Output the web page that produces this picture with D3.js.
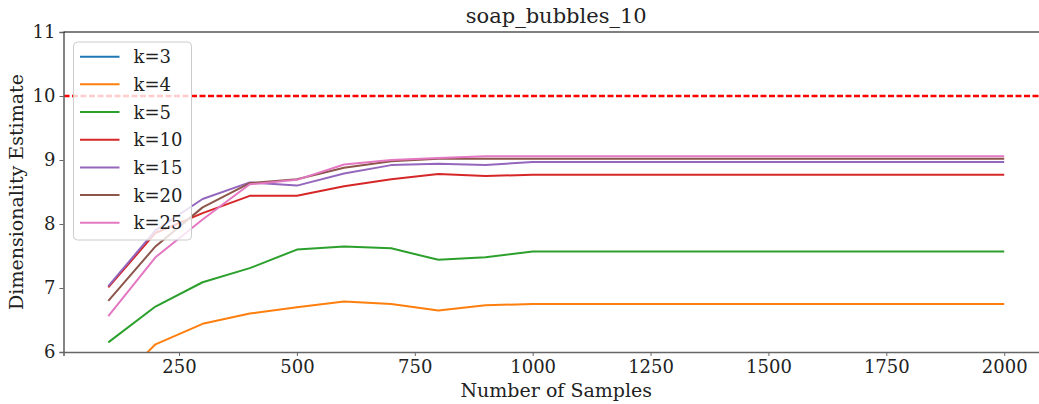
<!DOCTYPE html>
<html>
<head>
<meta charset="utf-8">
<script src="https://cdn.jsdelivr.net/npm/d3@7"></script>
<style>
  body { margin: 0; background: #fff; }
  svg { font-family: "DejaVu Serif", serif; }
  .tick text { font-size: 18px; fill: #222; }
</style>
</head>
<body>
<svg id="chart" width="1039" height="404"></svg>
<script>
// sample sizes
const samples = [100, 200, 300, 400, 500, 600, 700, 800, 900, 1000,
                 1100, 1200, 1300, 1400, 1500, 1600, 1700, 1800, 1900, 2000];

const kLabels = ["k=3", "k=4", "k=5", "k=10", "k=15", "k=20", "k=25"];
const colors = ["#1f77b4", "#ff7f0e", "#2ca02c", "#d62728", "#9467bd", "#8c564b", "#e377c2"];

// estimates per k (k=3 lies below the visible range)
const k3  = [4.60, 5.30, 5.58, 5.72, 5.80, 5.86, 5.83, 5.76, 5.80, 5.82, 5.82, 5.82, 5.82, 5.82, 5.82, 5.82, 5.82, 5.82, 5.82, 5.82];
const k4  = [5.38, 6.12, 6.44, 6.60, 6.70, 6.79, 6.75, 6.65, 6.73, 6.75, 6.75, 6.75, 6.75, 6.75, 6.75, 6.75, 6.75, 6.75, 6.75, 6.75];
const k5  = [6.15, 6.71, 7.09, 7.31, 7.60, 7.65, 7.62, 7.44, 7.48, 7.57, 7.57, 7.57, 7.57, 7.57, 7.57, 7.57, 7.57, 7.57, 7.57, 7.57];
const k10 = [7.01, 7.86, 8.17, 8.44, 8.44, 8.59, 8.70, 8.78, 8.75, 8.77, 8.77, 8.77, 8.77, 8.77, 8.77, 8.77, 8.77, 8.77, 8.77, 8.77];
const k15 = [7.03, 7.90, 8.39, 8.65, 8.60, 8.79, 8.92, 8.94, 8.92, 8.97, 8.97, 8.97, 8.97, 8.97, 8.97, 8.97, 8.97, 8.97, 8.97, 8.97];
const k20 = [6.80, 7.65, 8.26, 8.64, 8.70, 8.88, 8.98, 9.02, 9.02, 9.02, 9.02, 9.02, 9.02, 9.02, 9.02, 9.02, 9.02, 9.02, 9.02, 9.02];
const k25 = [6.56, 7.48, 8.07, 8.62, 8.69, 8.93, 9.00, 9.03, 9.06, 9.06, 9.06, 9.06, 9.06, 9.06, 9.06, 9.06, 9.06, 9.06, 9.06, 9.06];
const series = [k3, k4, k5, k10, k15, k20, k25];

const trueDim = 10;
const xTicks = [250, 500, 750, 1000, 1250, 1500, 1750, 2000];
const yTicks = [6, 7, 8, 9, 10, 11];

const margin = {left: 63.5, top: 32, right: 1049, bottom: 352};

const svg = d3.select("#chart");

const x = d3.scaleLinear().domain([5, 2095]).range([margin.left, margin.right]);
const y = d3.scaleLinear().domain([6, 11]).range([margin.bottom, margin.top]);

svg.append("defs").append("clipPath").attr("id", "clip")
    .append("rect")
    .attr("x", margin.left).attr("y", margin.top)
    .attr("width", margin.right - margin.left)
    .attr("height", margin.bottom - margin.top);

const plot = svg.append("g").attr("clip-path", "url(#clip)");

const line = d3.line()
    .x((d, i) => x(samples[i]))
    .y(d => y(d));

series.forEach(function(s, i) {
    plot.append("path")
        .datum(s)
        .attr("d", line)
        .attr("fill", "none")
        .attr("stroke", colors[i])
        .attr("stroke-width", 2)
        .attr("stroke-linejoin", "round");
});

plot.append("line")
    .attr("x1", margin.left).attr("x2", margin.right)
    .attr("y1", y(trueDim)).attr("y2", y(trueDim))
    .attr("stroke", "#ff0000")
    .attr("stroke-width", 2.5)
    .attr("stroke-dasharray", "6,2.5");

// axes
const xAxis = svg.append("g")
    .attr("transform", "translate(0," + margin.bottom + ")")
    .call(d3.axisBottom(x).tickValues(xTicks).tickFormat(d3.format("d")).tickSize(4).tickPadding(4));
const yAxis = svg.append("g")
    .attr("transform", "translate(" + margin.left + ",0)")
    .call(d3.axisLeft(y).tickValues(yTicks).tickFormat(d3.format("d")).tickSize(4).tickPadding(4));

[xAxis, yAxis].forEach(function(a) {
    a.select(".domain").attr("stroke", "#666").attr("stroke-width", 1.6);
    a.selectAll(".tick line").attr("stroke", "#666").attr("stroke-width", 1);
    a.attr("font-family", null).attr("font-size", null);
});

// top spine
svg.append("line")
    .attr("x1", margin.left).attr("x2", margin.right)
    .attr("y1", margin.top).attr("y2", margin.top)
    .attr("stroke", "#000").attr("stroke-width", 1.2);

svg.append("text")
    .attr("x", (margin.left + margin.right) / 2)
    .attr("y", 23)
    .attr("text-anchor", "middle")
    .attr("font-size", 21)
    .attr("fill", "#222")
    .text("soap_bubbles_10");

svg.append("text")
    .attr("x", (margin.left + margin.right) / 2)
    .attr("y", 397)
    .attr("text-anchor", "middle")
    .attr("font-size", 19)
    .attr("fill", "#222")
    .text("Number of Samples");

svg.append("text")
    .attr("transform", "translate(23," + (margin.top + margin.bottom) / 2 + ") rotate(-90)")
    .attr("text-anchor", "middle")
    .attr("font-size", 19)
    .attr("fill", "#222")
    .text("Dimensionality Estimate");

// legend
const legend = svg.append("g").attr("transform", "translate(73.5,42)");
legend.append("rect")
    .attr("width", 118).attr("height", 198)
    .attr("rx", 4)
    .attr("fill", "#fff").attr("fill-opacity", 0.8)
    .attr("stroke", "#ccc").attr("stroke-width", 1);

kLabels.forEach(function(lab, i) {
    const cy = 14.7 + i * 27.67;
    legend.append("line")
        .attr("x1", 6.5).attr("x2", 46)
        .attr("y1", cy).attr("y2", cy)
        .attr("stroke", colors[i]).attr("stroke-width", 2);
    legend.append("text")
        .attr("x", 60).attr("y", cy + 6.5)
        .attr("font-size", 18)
        .attr("fill", "#222")
        .text(lab);
});
</script>
</body>
</html>
